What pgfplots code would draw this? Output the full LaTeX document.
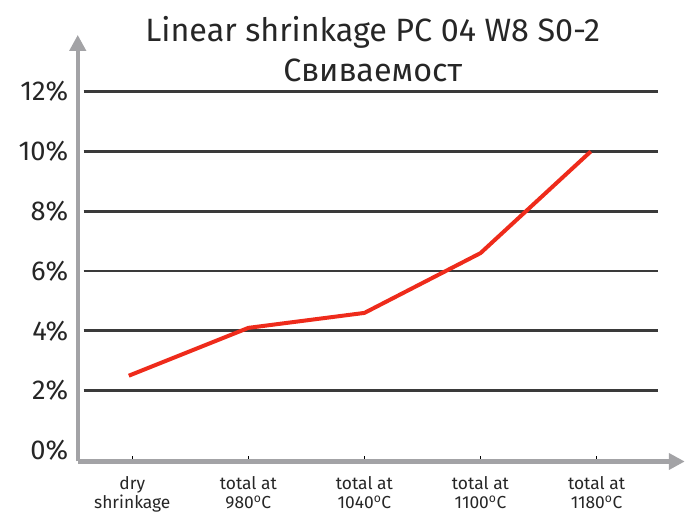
\documentclass[border=0pt]{standalone}
\usepackage{pgfplots}
\pgfplotsset{compat=1.18}
\usepackage{fontspec}
\setmainfont{Fira Sans}
\usetikzlibrary{arrows.meta}
\definecolor{axgray}{HTML}{A3A3A6}
\definecolor{gridc}{HTML}{3A3A3A}
\definecolor{redl}{HTML}{EE2B1B}
\begin{document}
\begin{tikzpicture}
\begin{axis}[
  scale only axis,
  width=609bp, height=428bp,
  xmin=-0.47, xmax=4.76,
  ymin=-0.37, ymax=13.9,
  axis x line=bottom, axis y line=left,
  x axis line style={line width=4.5bp, color=axgray, -{Triangle[length=16bp,width=16bp]}},
  y axis line style={line width=4.5bp, color=axgray, -{Triangle[length=16bp,width=16bp]}},
  xtick={0,1,2,3,4},
  xticklabels={dry\\shrinkage, total at\\980\textsuperscript{o}C, total at\\1040\textsuperscript{o}C, total at\\1100\textsuperscript{o}C, total at\\1180\textsuperscript{o}C},
  xticklabel style={align=center, font=\fontsize{17.5}{20}\selectfont, text=black!85, yshift=-11bp},
  xtick align=inside,
  major tick length=6bp,
  xtick style={draw=black, line width=1.5bp},
  ytick={0,2,4,6,8,10,12},
  yticklabel={\pgfmathprintnumber{\tick}\%},
  yticklabel style={font=\fontsize{27.5}{27.5}\selectfont, text=black!85, xshift=-3bp},
  ytick style={draw=none},
  /pgf/number format/assume math mode=true,
  clip=false,
  title={Linear shrinkage PC 04 W8 S0-2\\Свиваемост},
  title style={align=center, font=\fontsize{32.5}{40}\selectfont, text=black!85, at={(rel axis cs:0.486,1.037)}, anchor=north},
]
\addplot[gridc, line width=2.8bp] coordinates {(-0.42,2) (4.53,2)};
\addplot[gridc, line width=2.8bp] coordinates {(-0.42,4) (4.53,4)};
\addplot[gridc, line width=2.8bp] coordinates {(-0.42,6) (4.53,6)};
\addplot[gridc, line width=2.8bp] coordinates {(-0.42,8) (4.53,8)};
\addplot[gridc, line width=2.8bp] coordinates {(-0.42,10) (4.53,10)};
\addplot[gridc, line width=2.8bp] coordinates {(-0.42,12) (4.53,12)};
\addplot[redl, line width=4bp] coordinates {(-0.03,2.5) (1,4.1) (2,4.6) (3,6.6) (3.95,10)};
\path (rel axis cs:0,0) ++(-78bp,-50bp) rectangle ++(687bp,513bp);
\end{axis}
\end{tikzpicture}
\end{document}
